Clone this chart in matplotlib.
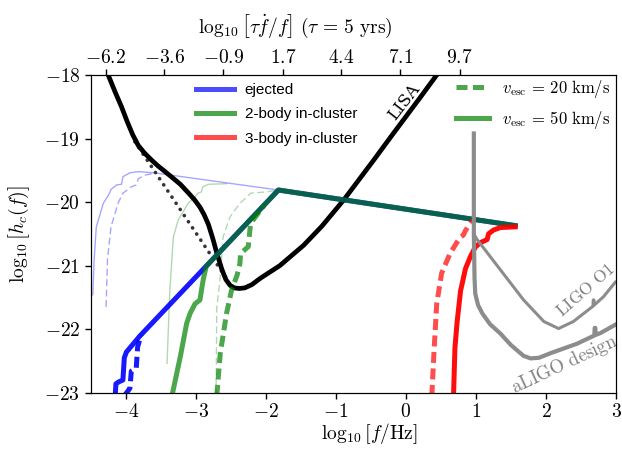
import numpy as np
import matplotlib
matplotlib.use('Agg')
import matplotlib.pyplot as plt
from matplotlib.lines import Line2D

plt.rcParams['mathtext.fontset'] = 'cm'
plt.rcParams['font.family'] = ['Liberation Sans', 'DejaVu Sans']

# LISA sensitivity (log10 f, log10 h)
lisa_x = [-4.32, -4.25, -4.15, -4.06, -3.98, -3.90, -3.82, -3.73, -3.63, -3.54, -3.45,
          -3.35, -3.22, -3.11, -3.02, -2.94, -2.88, -2.82, -2.76, -2.70, -2.63, -2.57,
          -2.51, -2.45, -2.38, -2.30, -2.20, -2.08, -1.80, -1.46, -1.20, -0.89, -0.46,
          -0.20, 0.20, 0.46]
lisa_y = [-17.80, -18.00, -18.27, -18.50, -18.73, -18.94, -19.11, -19.23, -19.34, -19.43,
          -19.51, -19.60, -19.72, -19.85, -19.96, -20.08, -20.20, -20.35, -20.56, -20.80,
          -21.05, -21.22, -21.31, -21.35, -21.36, -21.35, -21.30, -21.20, -21.00, -20.68,
          -20.38, -19.97, -19.34, -18.95, -18.36, -17.97]
dot_x = [-3.87, -2.52]
dot_y = [-19.05, -21.27]

# ejected
ej_x = [-4.15, -4.14, -4.10, -4.04, -4.02, -3.99, -3.80, -1.82, 1.56]
ej_y = [-23.05, -22.86, -22.83, -22.80, -22.45, -22.36, -22.11, -19.81, -20.37]
ej20_x = [-4.02, -3.96, -3.94, -3.92, -3.85, -3.83, -3.78]
ej20_y = [-23.05, -22.96, -22.93, -22.66, -22.62, -22.28, -22.09]
ej_thin_x = [-4.47, -4.45, -4.42, -4.32, -4.23, -4.21, -4.13, -4.06, -4.04, -3.99, -3.94,
             -3.82, -3.59, -1.82]
ej_thin_y = [-21.46, -20.90, -20.39, -20.02, -19.86, -19.80, -19.73, -19.72, -19.60, -19.57,
             -19.54, -19.52, -19.54, -19.81]
ej20_thin_x = [-4.28, -4.26, -4.21, -4.11, -4.04, -3.92, -3.85, -3.82, -3.71, -3.59]
ej20_thin_y = [-21.65, -20.90, -20.39, -20.02, -19.86, -19.76, -19.73, -19.63, -19.57, -19.55]

# 2-body in-cluster
b2_x = [-3.34, -3.22, -3.13, -3.08, -3.01, -2.94, -2.91, -2.89, -2.85, -1.82, 1.56]
b2_y = [-23.05, -22.43, -21.91, -21.75, -21.60, -21.54, -21.33, -21.20, -21.01, -19.81, -20.37]
b220_x = [-2.70, -2.65, -2.56, -2.49, -2.41, -2.37, -2.36, -2.25, -2.22, -2.18, -2.03]
b220_y = [-23.05, -22.38, -21.75, -21.39, -21.15, -20.97, -20.81, -20.70, -20.36, -20.28, -20.06]
b2_thin_x = [-3.41, -3.37, -3.32, -3.25, -3.11, -3.01, -2.97, -2.92, -2.90, -2.82, -2.56]
b2_thin_y = [-22.54, -21.39, -20.55, -20.28, -20.02, -19.92, -19.86, -19.84, -19.76, -19.72, -19.71]
b220_thin_x = [-2.71, -2.70, -2.65, -2.61, -2.51, -2.37, -2.27, -2.22, -1.99, -1.82]
b220_thin_y = [-23.05, -21.67, -21.18, -20.55, -20.23, -20.02, -19.92, -19.86, -19.84, -19.81]

# 3-body in-cluster
b3_x = [0.68, 0.70, 0.73, 0.78, 0.85, 0.92, 0.99, 1.06, 1.16, 1.18, 1.25, 1.35, 1.56]
b3_y = [-23.05, -22.30, -21.90, -21.40, -21.05, -20.86, -20.71, -20.64, -20.59, -20.50,
        -20.44, -20.40, -20.39]
b320_x = [0.37, 0.40, 0.44, 0.51, 0.63, 0.73, 0.78, 0.82, 0.85, 0.92, 0.97]
b320_y = [-23.05, -22.38, -21.60, -21.12, -20.81, -20.63, -20.55, -20.52, -20.45, -20.33, -20.28]

# LIGO
aligo_x = [0.97, 0.97, 0.98, 0.99, 1.03, 1.09, 1.20, 1.35, 1.50, 1.68, 1.78, 1.90, 2.06,
           2.44, 2.69, 2.695, 2.705, 2.71, 2.78, 2.99]
aligo_y = [-18.92, -20.50, -21.20, -21.44, -21.62, -21.75, -21.92, -22.07, -22.25, -22.42,
           -22.46, -22.45, -22.38, -22.23, -22.10, -21.98, -21.98, -22.09, -22.06, -21.93]
o1_x = [0.98, 1.01, 1.68, 1.97, 2.18, 2.39, 2.67, 2.675, 2.685, 2.69, 2.82, 2.99]
o1_y = [-20.52, -20.58, -21.54, -21.88, -21.99, -21.88, -21.64, -21.54, -21.54, -21.62,
        -21.49, -21.26]

top_pos = [-4.286, -3.449, -2.606, -1.757, -0.920, -0.081, 0.766]
top_labels = ['-6.2', '-3.6', '-0.9', '1.7', '4.4', '7.1', '9.7']

fig = plt.figure(figsize=(6.22, 4.5), dpi=100)
ax = fig.add_axes([0.1458, 0.1273, 0.9904 - 0.1458, 0.8333 - 0.1273])

thick = 3.6
dthick = (2.2, 1.1)
dthin = (5, 2.5)

# thin lines
ax.plot(ej_thin_x, ej_thin_y, color='blue', alpha=0.35, lw=1)
ax.plot(ej20_thin_x, ej20_thin_y, color='blue', alpha=0.35, lw=1, dashes=dthin)
ax.plot(b2_thin_x, b2_thin_y, color='green', alpha=0.3, lw=1)
ax.plot(b220_thin_x, b220_thin_y, color='green', alpha=0.3, lw=1, dashes=dthin)

ax.plot(dot_x, dot_y, color='0.2', lw=2.6, ls=(0, (0.05, 2.0)), dash_capstyle='round')
ax.plot(lisa_x, lisa_y, color='black', lw=3.4, solid_joinstyle='round')

ax.plot(ej_x, ej_y, color='blue', alpha=0.9, lw=thick)
ax.plot(ej20_x, ej20_y, color='blue', alpha=0.9, lw=thick, dashes=dthick)
ax.plot(b2_x, b2_y, color='green', alpha=0.7, lw=thick)
ax.plot(b220_x, b220_y, color='green', alpha=0.7, lw=thick, dashes=dthick)
ax.plot(b320_x, b320_y, color='red', alpha=0.7, lw=thick, dashes=dthick)
ax.plot(b3_x, b3_y, color='red', alpha=0.95, lw=thick)

ax.plot(aligo_x, aligo_y, color='0.55', lw=3.0)
ax.plot(o1_x, o1_y, color='0.55', lw=2.2)

ax.text(-0.02, -18.42, 'LISA', family='serif', fontsize=12, rotation=52,
        ha='center', va='center', math_fontfamily='cm')
ax.text(2.56, -21.38, r'$\mathrm{LIGO\ O1}$', fontsize=12.5, rotation=41, color='0.5',
        ha='center', va='center')
ax.text(2.27, -22.56, r'$\mathrm{aLIGO\ design}$', fontsize=13.5, rotation=25, color='0.5',
        ha='center', va='center')

ax.set_xlim(-4.5, 3)
ax.set_ylim(-23, -18)
ax.set_xticks(np.arange(-4, 4, 1))
ax.set_xticklabels(['$%d$' % v for v in np.arange(-4, 4, 1)])
ax.set_yticks(np.arange(-23, -17, 1))
ax.set_yticklabels(['$%d$' % v for v in np.arange(-23, -17, 1)])
ax.tick_params(direction='out', length=4, width=1, labelsize=14)
ax.set_xlabel(r'$\log_{10}\left[f/\mathrm{Hz}\right]$', fontsize=14, labelpad=2)
ax.xaxis.set_label_coords(0.53, -0.09)
ax.set_ylabel(r'$\log_{10}\left[h_c(f)\right]$', fontsize=14)
ax.yaxis.set_label_coords(-0.112, 0.5)

ax2 = ax.twiny()
ax2.set_xlim(ax.get_xlim())
ax2.set_xticks(top_pos)
ax2.set_xticklabels(['$%s$' % s for s in top_labels])
ax2.tick_params(direction='out', length=4, width=1, labelsize=14, pad=2)
ax.text(0.39, 1.152,
        r'$\log_{10}\left[\tau\dot{f}/f\right]\ (\tau\,=\,5\ \mathrm{yrs})$',
        fontsize=14, ha='center', va='center', transform=ax.transAxes)

h1 = [Line2D([], [], color='blue', alpha=0.7, lw=thick),
      Line2D([], [], color='green', alpha=0.7, lw=thick),
      Line2D([], [], color='red', alpha=0.7, lw=thick)]
leg1 = ax.legend(h1, ['ejected', '2-body in-cluster', '3-body in-cluster'], loc='upper left',
                 bbox_to_anchor=(0.2, 0.975), frameon=False, fontsize=11, borderpad=0,
                 borderaxespad=0, handlelength=2.5, handletextpad=0.7, labelspacing=0.68)
ax.add_artist(leg1)
h2 = [Line2D([], [], color='green', alpha=0.7, lw=thick, dashes=dthick),
      Line2D([], [], color='green', alpha=0.7, lw=thick)]
ax.legend(h2, [r'$v_{\rm esc}\,=\,20\ \mathrm{km/s}$', r'$v_{\rm esc}\,=\,50\ \mathrm{km/s}$'],
          loc='upper left', bbox_to_anchor=(0.695, 0.99), frameon=False, fontsize=12,
          borderpad=0, borderaxespad=0, handlelength=2.0, handletextpad=0.8,
          labelspacing=0.5)

fig.savefig('out.png', dpi=100)
